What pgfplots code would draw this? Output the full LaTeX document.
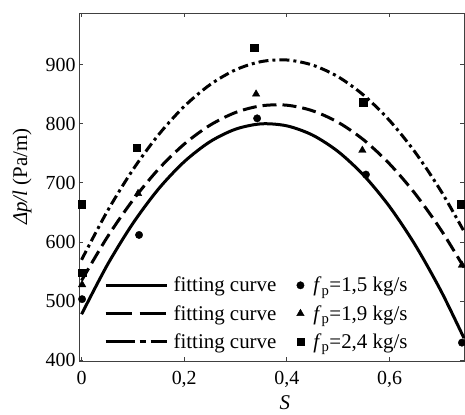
\documentclass[border=0pt]{standalone}
\usepackage{pgfplots}
\pgfplotsset{compat=1.18}
\usepackage{fontspec}
\setmainfont{Liberation Serif}
\pgfplotsset{
  lineleg/.style={legend image code/.code={\path[draw=none,fill=none] (0bp,0bp) -- (66bp,0bp); \draw[##1] (0bp,0bp) -- (61bp,0bp);}},
  dashleg/.style={legend image code/.code={\path[draw=none,fill=none] (0bp,0bp) -- (66bp,0bp); \draw[##1, dash pattern=on 26bp off 8bp] (0bp,0bp) -- (61bp,0bp);}},
  dashdotleg/.style={legend image code/.code={\path[draw=none,fill=none] (0bp,0bp) -- (66bp,0bp); \draw[##1, dash pattern=on 29bp off 5bp on 6bp off 5bp] (0bp,0bp) -- (61bp,0bp);}},
  markleg/.style={legend image code/.code={\path[draw=none,fill=none] (0bp,0bp) -- (15bp,0bp); \draw[##1] plot coordinates {(4bp,0bp)};}},
}
\begin{document}
\begin{tikzpicture}
\begin{axis}[
  at={(0,0)}, anchor=south west,
  scale only axis, width=385bp, height=348bp,
  xmin=-0.005, xmax=0.745, ymin=399, ymax=987,
  xtick={0,0.2,0.4,0.6}, ytick={400,500,600,700,800,900},
  tick align=inside, major tick length=4bp,
  axis line style={black!75, line width=0.8bp},
  every tick/.style={black!75, line width=0.8bp},
  /pgf/number format/assume math mode=true,
  /pgf/number format/use comma,
  tick label style={font=\fontsize{20}{24}\selectfont},
  xticklabel style={yshift=-7bp},
  xlabel={\textit{S}},
  xlabel style={font=\fontsize{21}{24}\selectfont, at={(axis description cs:0.535,0)}, anchor=north, yshift=-31bp},
  ylabel={\textit{Δp/l} (Pa/m)},
  ylabel style={font=\fontsize{21}{25}\selectfont, at={(axis description cs:-0.148,0.53)}, anchor=center},
  legend columns=2,
  legend cell align=left,
  legend style={draw=none, fill=none, font=\fontsize{21}{24}\selectfont,
    at={(axis description cs:0.057,0.02)}, anchor=south west,
    /tikz/every even column/.append style={column sep=18bp},
    row sep=8bp},
  clip=false,
]
\addplot[black, line width=3bp, smooth, lineleg]
  coordinates {(0,478) (0.05,561) (0.1,631.5) (0.15,689.8) (0.2,735.7) (0.25,769.4) (0.3,790.7) (0.35,799.7) (0.4,796.3) (0.45,780.7) (0.5,752.7) (0.55,712.4) (0.6,659.8) (0.65,594.9) (0.7,517.7) (0.745,437.6)};
\addlegendentry{fitting curve}
\addplot[black, only marks, mark=*, mark size=3.7bp, markleg]
  coordinates {(0.001,503.5) (0.112,612) (0.342,809) (0.554,714) (0.741,430)};
\addlegendentry{\textit{f}\textsubscript{p}=1,5 kg/s}
\addplot[black, line width=3bp, smooth, dash pattern=on 14bp off 6bp, dashleg]
  coordinates {(0,535) (0.05,608.1) (0.1,670.8) (0.15,723.3) (0.2,765.5) (0.25,797.3) (0.3,818.9) (0.35,830.2) (0.4,831.2) (0.45,821.8) (0.5,802.2) (0.55,772.3) (0.6,732) (0.65,681.5) (0.7,620.7) (0.745,557.1)};
\addlegendentry{fitting curve}
\addplot[black, only marks, mark=triangle*, mark size=4.3bp, markleg]
  coordinates {(0.001,528) (0.110,682) (0.340,850) (0.547,755) (0.741,561)};
\addlegendentry{\textit{f}\textsubscript{p}=1,9 kg/s}
\addplot[black, line width=3bp, smooth, dash pattern=on 10bp off 4bp on 3bp off 4bp, dashdotleg]
  coordinates {(0,570) (0.05,651.8) (0.1,722.2) (0.15,781.3) (0.2,829.2) (0.25,865.7) (0.3,891) (0.35,904.9) (0.4,907.6) (0.45,899) (0.5,879.1) (0.55,847.8) (0.6,805.3) (0.65,751.5) (0.7,686.4) (0.745,618.1)};
\addlegendentry{fitting curve}
\addplot[black, only marks, mark=square*, mark size=3.7bp, markleg]
  coordinates {(0,664) (0.001,548) (0.107,759) (0.336,928) (0.549,836) (0.738,664)};
\addlegendentry{\textit{f}\textsubscript{p}=2,4 kg/s}
\end{axis}
\pgfresetboundingbox
\path[use as bounding box] (-79bp,-54bp) rectangle (386bp,361bp);
\end{tikzpicture}
\end{document}
